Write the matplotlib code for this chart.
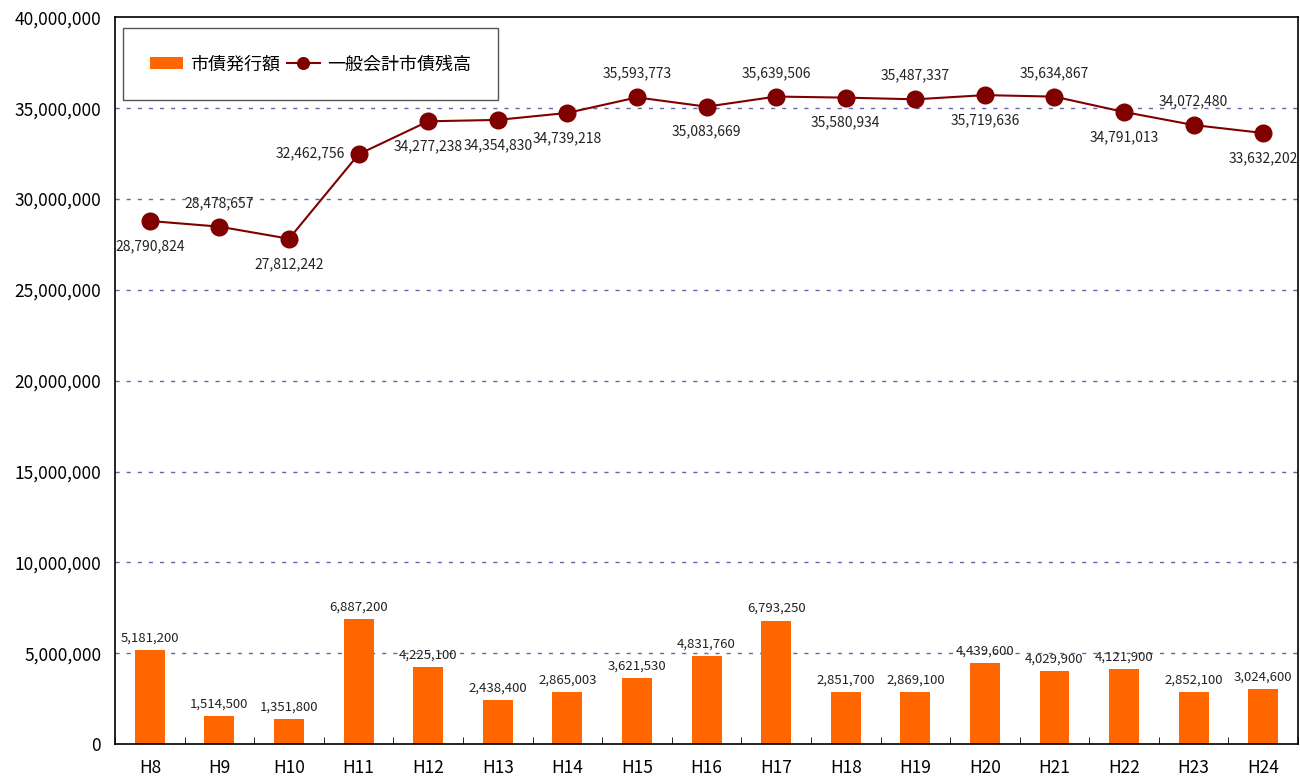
import matplotlib.pyplot as plt
import numpy as np

plt.rcParams['font.family'] = ['Noto Sans CJK JP', 'DejaVu Sans']

years = ["H8", "H9", "H10", "H11", "H12", "H13", "H14", "H15", "H16",
         "H17", "H18", "H19", "H20", "H21", "H22", "H23", "H24"]
issued = [5181200, 1514500, 1351800, 6887200, 4225100, 2438400, 2865003,
          3621530, 4831760, 6793250, 2851700, 2869100, 4439600, 4029900,
          4121900, 2852100, 3024600]
balance = [28790824, 28478657, 27812242, 32462756, 34277238, 34354830,
           34739218, 35593773, 35083669, 35639506, 35580934, 35487337,
           35719636, 35634867, 34791013, 34072480, 33632202]
# where each balance label sits: b=below, a=above, l=left
label_pos = ["b", "a", "b", "l", "b", "b", "b", "a", "b",
             "a", "b", "a", "b", "a", "b", "a", "b"]

fig = plt.figure(figsize=(13, 7.78), dpi=100)
ax = fig.add_axes([0.0885, 0.0437, 0.91, 0.934])

x = np.arange(len(years))
bars = ax.bar(x, issued, width=0.43, color="#ff6600", zorder=2, label="市債発行額")
line, = ax.plot(x, balance, color="#800000", lw=1.5, marker="o", markersize=12,
                zorder=3, label="一般会計市債残高")

for i, v in enumerate(issued):
    ax.annotate(f"{v:,}", (x[i], v), xytext=(0, 4), textcoords="offset points",
                ha="center", va="bottom", fontsize=9.5, color="#222222")

for i, v in enumerate(balance):
    p = label_pos[i]
    if p == "a":
        off, va, ha = (0, 12), "bottom", "center"
    elif p == "l":
        off, va, ha = (-10, 1), "center", "right"
    else:
        off, va, ha = (0, -13), "top", "center"
    ax.annotate(f"{v:,}", (x[i], v), xytext=off, textcoords="offset points",
                ha=ha, va=va, fontsize=10, color="#222222", zorder=5)

ax.set_xlim(-0.5, len(years) - 0.5)
ax.set_ylim(0, 40000000)
ax.set_yticks(np.arange(0, 40000001, 5000000))
ax.yaxis.set_major_formatter(plt.FuncFormatter(lambda v, p: f"{int(v):,}"))
ax.set_xticks(x)
ax.set_xticklabels(years)
ax.set_xticks(np.arange(-0.5, len(years), 1), minor=True)
ax.tick_params(axis="x", which="major", length=0, labelsize=12.5, pad=11)
ax.tick_params(axis="x", which="minor", length=5, direction="in")
ax.tick_params(axis="y", labelsize=12.5, length=0, pad=10)

for yv in np.arange(5000000, 40000000, 5000000):
    ax.axhline(yv, color="#6666aa", lw=1, ls=(0, (3, 5)), zorder=1)

for s in ax.spines.values():
    s.set_linewidth(1.2)
    s.set_color("black")

leg = ax.legend([bars, line], ["市債発行額", "一般会計市債残高"],
                loc="upper left", ncol=2, fontsize=13, frameon=True,
                fancybox=False, edgecolor="#555555", borderpad=1.5,
                handlelength=1.8, columnspacing=0.4, handletextpad=0.4,
                borderaxespad=0, framealpha=1, markerscale=0.7,
                bbox_to_anchor=(0.0068, 0.985))
leg.get_frame().set_linewidth(1)

fig.savefig("out.png", dpi=100)
